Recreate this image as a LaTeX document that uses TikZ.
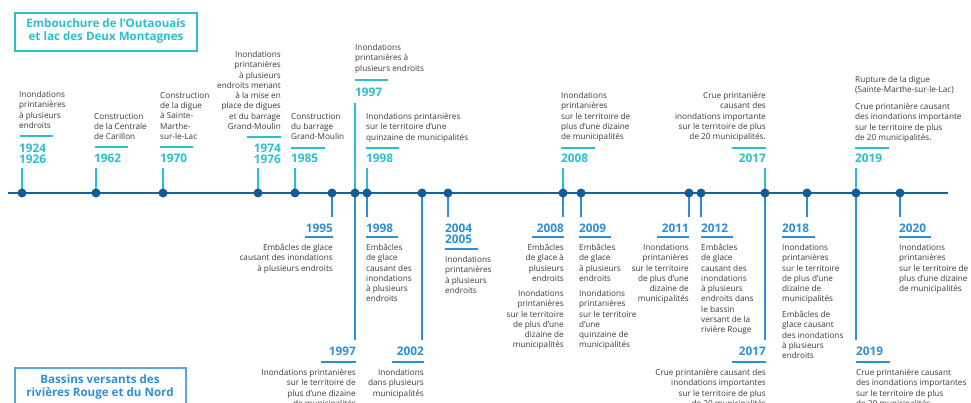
\documentclass[tikz,border=0pt]{standalone}
\usepackage{fontspec}
\setmainfont{Open Sans}
\definecolor{axisc}{HTML}{19639F}
\definecolor{dotc}{HTML}{0F5C97}
\definecolor{cyanc}{HTML}{29BFCF}
\definecolor{bluec}{HTML}{2D8FD5}
\definecolor{txtc}{HTML}{3A3A3A}
\begin{document}
\begin{tikzpicture}[x=1pt,y=-1pt,
  dot/.style={circle,fill=dotc,inner sep=0pt,minimum size=9pt},
  topstem/.style={draw=cyanc,line width=2pt},
  botstem/.style={draw=bluec,line width=2pt},
  toprule/.style={draw=cyanc,line width=1.5pt},
  botrule/.style={draw=bluec,line width=1.5pt},
  lbl/.style={inner sep=0pt,text=txtc,font=\fontsize{8.2}{10.3}\selectfont},
  lblL/.style={lbl,anchor=north west,align=left},
  lblR/.style={lbl,anchor=north east,align=right},
  yr/.style={inner sep=0pt,font=\fontsize{11.8}{11.5}\selectfont\bfseries},
  yrTL/.style={yr,text=cyanc,anchor=north west,align=left},
  yrTR/.style={yr,text=cyanc,anchor=north east,align=right},
  yrBL/.style={yr,text=bluec,anchor=north west,align=left},
  yrBR/.style={yr,text=bluec,anchor=north east,align=right},
  hdr/.style={inner sep=0pt,align=center,font=\fontsize{11.6}{13}\selectfont\bfseries}
]
\useasboundingbox (0,0) rectangle (971,403);
\clip (0,0) rectangle (971,403);
% headers
\draw[cyanc,line width=1.2pt] (15,13) rectangle (197,51);
\node[hdr,text=cyanc] (htop) at (106,31) {Embouchure de l’Outaouais\\et lac des Deux Montagnes};
\draw[bluec!80,line width=1.2pt] (15,368) rectangle (186,415);
\node[hdr,text=bluec] (hbot) at (100,387) {Bassins versants des\\rivières Rouge et du Nord};
% axis
\coordinate (axL) at (8,193);
\coordinate (axR) at (948,193);
\draw[axisc,line width=2.5pt] (axL) -- (axR);
% stems first
\foreach \x in {22,96,163,258,295,367,563,765,856}{\draw[topstem] (\x,193) -- (\x,168);}
\draw[topstem] (355,193) -- (355,103);
\foreach \x in {332,367,448,563,581,689,701,807,900}{\draw[botstem] (\x,193) -- (\x,217);}
\foreach \x in {355,422,765,856}{\draw[botstem] (\x,193) -- (\x,340);}
% dots
\foreach \x/\n in {22/a,96/b,163/c,258/d,295/e,332/f,355/g,367/h,422/i,448/j,563/k,581/l,689/m,701/n,765/o,807/p,856/q,900/r}{\node[dot] (d\n) at (\x,193) {};}
% ---- top labels
\node[lblL] (t1924) at (19,91) {Inondations\\printanières\\à plusieurs\\endroits};
\draw[toprule] (20,136) -- (53,136);
\node[yrTL] (y1924) at (19,143.7) {1924\\1926};
\node[lblL] (t1962) at (94,113) {Construction\\de la Centrale\\de Carillon};
\draw[toprule] (95,147) -- (128,147);
\node[yrTL] (y1962) at (94,153.7) {1962};
\node[lblL] (t1970) at (160,92) {Construction\\de la digue\\à Sainte-\\Marthe-\\sur-le-Lac};
\draw[toprule] (160,147) -- (193,147);
\node[yrTL] (y1970) at (160,153.7) {1970};
\node[lblR] (t1974) at (281,51) {Inondations\\printanières\\à plusieurs\\endroits menant\\à la mise en\\place de digues\\et du barrage\\Grand-Moulin};
\draw[toprule] (247,137) -- (281,137);
\node[yrTR] (y1974) at (281,143.7) {1974\\1976};
\node[lblL] (t1985) at (291,113) {Construction\\du barrage\\Grand-Moulin};
\draw[toprule] (291,148) -- (325,148);
\node[yrTL] (y1985) at (291,153.7) {1985};
\node[lblL] (t1997) at (355,44) {Inondations\\printanières à\\plusieurs endroits};
\draw[toprule] (355,80) -- (388,80);
\node[yrTL] (y1997) at (355,87.7) {1997};
\node[lblL] (t1998) at (366,113) {Inondations printanières\\sur le territoire d’une\\quinzaine de municipalités};
\draw[toprule] (366,148) -- (399,148);
\node[yrTL] (y1998) at (366,153.7) {1998};
\node[lblL] (t2008) at (561,92) {Inondations\\printanières\\sur le territoire de\\plus d’une dizaine\\de municipalités};
\draw[toprule] (561,148) -- (595,148);
\node[yrTL] (y2008) at (561,153.7) {2008};
\node[lblR] (t2017) at (766,92) {Crue printanière\\causant des\\inondations importante\\sur le territoire de plus\\de 20 municipalités.};
\draw[toprule] (732,148) -- (766,148);
\node[yrTR] (y2017) at (766,153.7) {2017};
\node[lblL] (t2019a) at (855,76) {Rupture de la digue\\(Sainte-Marthe-sur-le-Lac)};
\node[lblL] (t2019b) at (855,103) {Crue printanière causant\\des inondations importante\\sur le territoire de plus\\de 20 municipalités.};
\draw[toprule] (855,148) -- (889,148);
\node[yrTL] (y2019) at (855,153.7) {2019};
% ---- bottom labels (short)
\node[yrBR] (y1995) at (333,223.7) {1995};
\draw[botrule] (305,237) -- (333,237);
\node[lblR] (b1995) at (333,244) {Embâcles de glace\\causant des inondations\\à plusieurs endroits};
\node[yrBL] (yb1998) at (366,223.7) {1998};
\draw[botrule] (366,237) -- (398,237);
\node[lblL] (b1998) at (366,244) {Embâcles\\de glace\\causant des\\inondations\\à plusieurs\\endroits};
\node[yrBL] (y2004) at (445,223.7) {2004\\2005};
\draw[botrule] (445,249) -- (478,249);
\node[lblL] (b2004) at (445,256) {Inondations\\printanières\\à plusieurs\\endroits};
\node[yrBR] (yb2008) at (564,223.7) {2008};
\draw[botrule] (532,237) -- (564,237);
\node[lblR] (b2008a) at (564,244) {Embâcles\\de glace à\\plusieurs\\endroits};
\node[lblR] (b2008b) at (564,290) {Inondations\\printanières\\sur le territoire\\de plus d’une\\dizaine de\\municipalités};
\node[yrBL] (y2009) at (579,223.7) {2009};
\draw[botrule] (579,237) -- (611,237);
\node[lblL] (b2009a) at (579,244) {Embâcles\\de glace\\à plusieurs\\endroits};
\node[lblL] (b2009b) at (579,290) {Inondations\\printanières\\sur le territoire\\d’une\\quinzaine de\\municipalités};
\node[yrBR] (y2011) at (689,223.7) {2011};
\draw[botrule] (657,237) -- (689,237);
\node[lblR] (b2011) at (689,244) {Inondations\\printanières\\sur le territoire\\de plus d’une\\dizaine de\\municipalités};
\node[yrBL] (y2012) at (701,223.7) {2012};
\draw[botrule] (701,237) -- (733,237);
\node[lblL] (b2012) at (701,244) {Embâcles\\de glace\\causant des\\inondations\\à plusieurs\\endroits dans\\le bassin\\versant de la\\rivière Rouge};
\node[yrBL] (y2018) at (782,223.7) {2018};
\draw[botrule] (782,237) -- (815,237);
\node[lblL] (b2018a) at (782,244) {Inondations\\printanières\\sur le territoire\\de plus d’une\\dizaine de\\municipalités};
\node[lblL] (b2018b) at (782,311) {Embâcles de\\glace causant\\des inondations\\à plusieurs\\endroits};
\node[yrBL] (y2020) at (899,223.7) {2020};
\draw[botrule] (899,237) -- (931,237);
\node[lblL] (b2020) at (899,244) {Inondations\\printanières\\sur le territoire de\\plus d’une dizaine\\de municipalités};
% ---- bottom labels (long)
\node[yrBR] (yb1997) at (356,346.7) {1997};
\draw[botrule] (321,362) -- (356,362);
\node[lblR] (b1997) at (356,369) {Inondations printanières\\sur le territoire de\\plus d’une dizaine\\de municipalités};
\node[yrBR] (y2002) at (424,346.7) {2002};
\draw[botrule] (392,362) -- (424,362);
\node[lblR] (b2002) at (424,369) {Inondations\\dans plusieurs\\municipalités};
\node[yrBR] (yb2017) at (766,346.7) {2017};
\draw[botrule] (732,362) -- (766,362);
\node[lblR] (b2017) at (766,369) {Crue printanière causant des\\inondations importantes\\sur le territoire de plus\\de 20 municipalités};
\node[yrBL] (yb2019) at (856,346.7) {2019};
\draw[botrule] (856,362) -- (890,362);
\node[lblL] (b2019) at (856,369) {Crue printanière causant\\des inondations importantes\\sur le territoire de plus\\de 20 municipalités};
\end{tikzpicture}
\end{document}
